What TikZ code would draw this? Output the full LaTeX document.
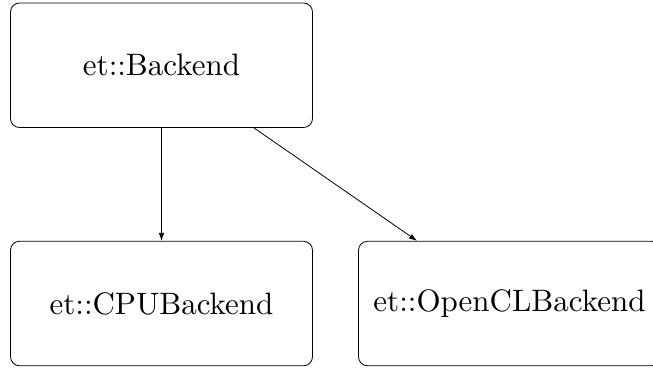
\documentclass[tikz,border=0pt]{standalone}
\usetikzlibrary{arrows.meta}
\newcommand{\bigname}[1]{\scalebox{3.1}{#1}}
\begin{document}
\begin{tikzpicture}[x=1pt,y=-1pt,
  classbox/.style={draw, line width=0.8pt, rounded corners=9pt,
    minimum width=302pt, minimum height=124.5pt, inner sep=0pt,
    font=\fontsize{10}{12}\selectfont},
  link/.style={line width=0.8pt, -{Latex[length=8pt,width=5.5pt]}}]
  \useasboundingbox (0,0) rectangle (653,367);
  \node[classbox] (base) at (161.5,65.25) {\bigname{et::Backend}};
  \node[classbox] (cpu) at (161.5,303.5) {\bigname{et::CPUBackend}};
  \node[classbox] (ocl) at (509.5,303.5) {\bigname{et::OpenCLBackend}};
  \draw[link] (base.south) -- (cpu.north);
  \draw[link] ([xshift=92.5pt]base.south) -- ([xshift=-92.5pt]ocl.north);
\end{tikzpicture}
\end{document}
